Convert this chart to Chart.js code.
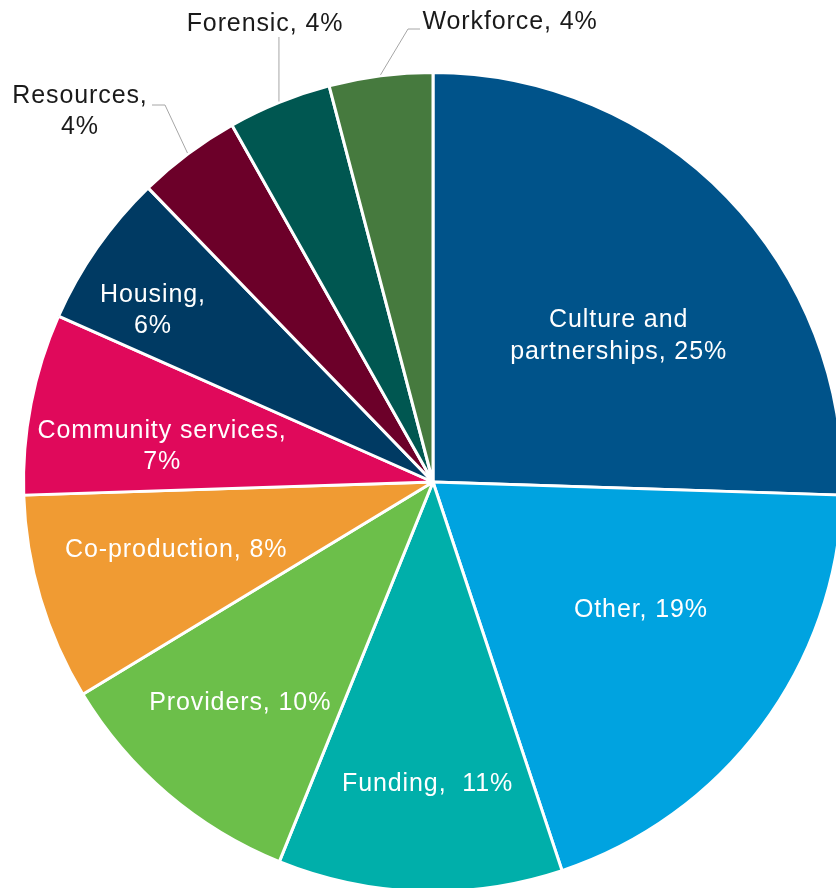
<!DOCTYPE html>
<html>
<head>
<meta charset="utf-8">
<script src="https://cdn.jsdelivr.net/npm/chart.js@4.4.1/dist/chart.umd.min.js"></script>
<style>
  html, body { margin: 0; padding: 0; background: #fff; overflow: hidden; }
  #wrap { position: absolute; left: 0; top: 0; width: 900px; height: 900px; }
</style>
</head>
<body>
<div id="wrap"><canvas id="pie" width="900" height="900"></canvas></div>
<script>
// categories and shares (%), clockwise from 12 o'clock
var categories = ['Culture and partnerships', 'Other', 'Funding', 'Providers', 'Co-production',
                  'Community services', 'Housing', 'Resources', 'Forensic', 'Workforce'];
var shares = [25, 19, 11, 10, 8, 7, 6, 4, 4, 4];
var colours = ['#00538A', '#00A3E0', '#00AFAA', '#6CBF4A', '#F09B33',
               '#E0095B', '#003A63', '#6C0029', '#005751', '#467A3E'];

// label placement: inside labels use (fraction of radius, degrees turned from slice middle),
// outside labels use px offsets from the pie centre plus a leader path
var labelLayout = [
  { inside: true, r: 0.576, turn: 6.0, wrap: 2, lh: 32 },
  { inside: true, r: 0.597, turn: -5.0 },
  { inside: true, r: 0.738, turn: -0.8, gap: '  ' },
  { inside: true, r: 0.716, turn: 0.7 },
  { inside: true, r: 0.649, turn: 1.6 },
  { inside: true, r: 0.667, turn: -3.6, wrap: 2 },
  { inside: true, r: 0.802, turn: -3.4, wrap: 1 },
  { inside: false, at: [-353, -370], wrap: 1, path: [[-268, -377], [-281, -377]] },
  { inside: false, at: [-168, -458], path: [['edge', -445]] },
  { inside: false, at: [77, -460], path: [[-25, -453], [-13, -453]] }
];

var labelFont = '25px "Liberation Sans", Arial, sans-serif';

function labelLines(i) {
  var lay = labelLayout[i];
  var text = categories[i] + ',' + (lay.gap || ' ') + shares[i] + '%';
  if (!lay.wrap) return [text];
  var words = text.split(' ');
  return [words.slice(0, lay.wrap).join(' '), words.slice(lay.wrap).join(' ')];
}

var sliceLabels = {
  id: 'sliceLabels',
  afterDatasetsDraw: function(chart) {
    var ctx = chart.ctx;
    var arcs = chart.getDatasetMeta(0).data;
    ctx.save();
    ctx.font = labelFont;
    ctx.letterSpacing = '0.9px';
    ctx.textAlign = 'center';
    ctx.textBaseline = 'middle';
    arcs.forEach(function(arc, i) {
      var p = arc.getProps(['x', 'y', 'startAngle', 'endAngle', 'outerRadius'], true);
      var mid = (p.startAngle + p.endAngle) / 2;
      var lay = labelLayout[i];
      var lines = labelLines(i);
      var lh = lay.lh || 31;
      var cx, cy;
      if (lay.inside) {
        var a = mid + lay.turn * Math.PI / 180;
        cx = p.x + Math.cos(a) * p.outerRadius * lay.r;
        cy = p.y + Math.sin(a) * p.outerRadius * lay.r;
        ctx.fillStyle = '#ffffff';
      } else {
        cx = p.x + lay.at[0];
        cy = p.y + lay.at[1];
        // leader line from the slice rim
        var ex = p.x + Math.cos(mid) * (p.outerRadius + 1);
        var ey = p.y + Math.sin(mid) * (p.outerRadius + 1);
        ctx.strokeStyle = '#A6A6A6';
        ctx.lineWidth = 1;
        ctx.beginPath();
        ctx.moveTo(ex, ey);
        lay.path.forEach(function(pt) {
          var px = pt[0] === 'edge' ? ex : p.x + pt[0];
          ctx.lineTo(px, p.y + pt[1]);
        });
        ctx.stroke();
        ctx.fillStyle = '#1A1A1A';
      }
      lines.forEach(function(line, k) {
        ctx.fillText(line, cx, cy + (k - (lines.length - 1) / 2) * lh);
      });
    });
    ctx.restore();
  }
};

new Chart(document.getElementById('pie'), {
  type: 'pie',
  data: {
    labels: categories,
    datasets: [{
      data: shares,
      backgroundColor: colours,
      borderColor: '#ffffff',
      borderWidth: 3
    }]
  },
  options: {
    responsive: false,
    animation: false,
    radius: 409.5,
    layout: { padding: { left: 0, right: 34, top: 64, bottom: 0 } },
    plugins: {
      legend: { display: false },
      tooltip: { enabled: false }
    }
  },
  plugins: [sliceLabels]
});
</script>
</body>
</html>
